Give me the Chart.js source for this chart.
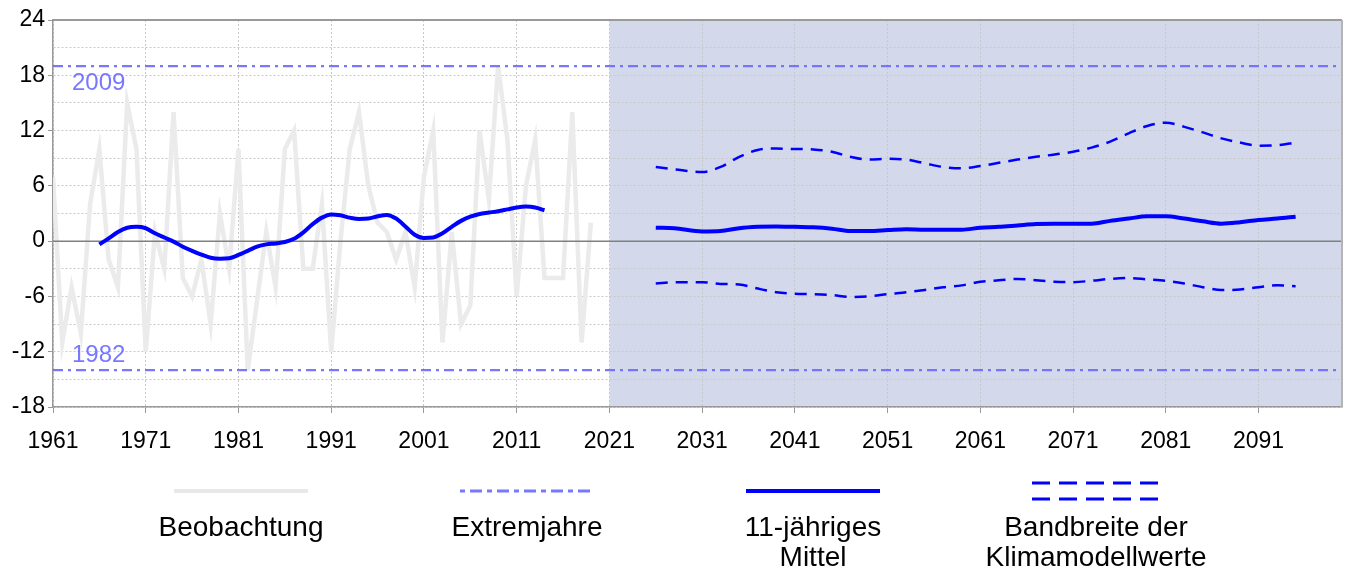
<!doctype html>
<html lang="de">
<head>
  <meta charset="utf-8">
  <title>Klimadiagramm</title>
  <script src="https://cdn.jsdelivr.net/npm/chart.js@4.4.1/dist/chart.umd.min.js"></script>
  <style>
    html, body { margin: 0; padding: 0; background: #fff; }
    #wrap { width: 1345px; height: 572px; position: relative; }
  </style>
</head>
<body>
  <div id="wrap"><canvas id="chart"></canvas></div>
  <script>
    // Beobachtung 1961-2019
    const obsStart = 1961;
    const obsValues = [7, -11, -5, -10, 4, 10, -2, -5, 15, 10,
      -12, 1, -3, 14, -4, -6, -2, -9, 3, -3,
      10, -14, -6.5, 1, -5, 10, 12, -3, -3, 4,
      -12, 0, 10, 14, 6, 2, 1, -2, 1, -5,
      7, 12, -11, 1, -9, -7, 12, 4.5, 19, 11,
      -6, 6, 11, -4, -4, -4, 14, -11, 2];

    // 11-jaehriges Mittel der Beobachtung 1966-2014
    const meanStart = 1966;
    const meanValues = [-0.35, 0.3, 1.0, 1.45, 1.55, 1.4, 0.85, 0.4, -0.05, -0.6,
      -1.05, -1.45, -1.8, -1.9, -1.85, -1.5, -1.05, -0.6, -0.35, -0.25,
      -0.1, 0.25, 0.95, 1.85, 2.55, 2.9, 2.8, 2.55, 2.4, 2.45,
      2.7, 2.85, 2.45, 1.6, 0.7, 0.35, 0.4, 0.85, 1.55, 2.2,
      2.65, 2.95, 3.1, 3.25, 3.45, 3.65, 3.75, 3.65, 3.35];

    // Klimamodelle
    const projYears = [2026, 2028, 2031, 2033, 2035, 2037, 2039, 2041, 2043, 2045,
      2047, 2049, 2051, 2053, 2055, 2057, 2059, 2061, 2063, 2065,
      2067, 2069, 2071, 2073, 2075, 2077, 2079, 2081, 2083, 2085,
      2087, 2089, 2091, 2093, 2095];
    const projMean = [1.45, 1.4, 1.05, 1.1, 1.4, 1.55, 1.6, 1.55, 1.5, 1.35,
      1.1, 1.1, 1.2, 1.3, 1.25, 1.25, 1.25, 1.45, 1.55, 1.7,
      1.85, 1.9, 1.9, 1.9, 2.2, 2.45, 2.7, 2.7, 2.45, 2.15,
      1.9, 2.05, 2.3, 2.45, 2.65];
    const projUpper = [8.05, 7.8, 7.5, 8.05, 9.15, 9.9, 10.05, 10.0, 9.95, 9.7,
      9.15, 8.85, 8.95, 8.85, 8.45, 8.05, 7.9, 8.15, 8.5, 8.85,
      9.15, 9.4, 9.7, 10.15, 10.8, 11.7, 12.5, 12.85, 12.4, 11.8,
      11.15, 10.7, 10.35, 10.4, 10.7];
    const projLower = [-4.6, -4.45, -4.45, -4.65, -4.7, -5.15, -5.55, -5.7, -5.75, -5.85,
      -6.05, -6.0, -5.75, -5.55, -5.3, -5.0, -4.8, -4.4, -4.25, -4.1,
      -4.25, -4.4, -4.45, -4.3, -4.1, -4.0, -4.15, -4.3, -4.6, -5.0,
      -5.3, -5.25, -5.0, -4.8, -4.9];

    // Extremjahre
    const extremeYears = ['2009', '1982'];
    const extremeValues = [19, -14];

    const xMin = 1961, xMax = 2100, projStart = 2021;
    const xTicks = [1961, 1971, 1981, 1991, 2001, 2011, 2021, 2031, 2041, 2051, 2061, 2071, 2081, 2091];
    const yMin = -18, yMax = 24;
    const yTicks = [-18, -15, -12, -9, -6, -3, 0, 3, 6, 9, 12, 15, 18, 21, 24];
    const yLabelled = [-18, -12, -6, 0, 6, 12, 18, 24];

    const legendItems = ['Beobachtung', 'Extremjahre', '11-jähriges|Mittel', 'Bandbreite der|Klimamodellwerte'];

    const FONT = '"Liberation Sans", Arial, sans-serif';
    const EXT_COLOR = 'rgba(105, 105, 255, 0.9)';
    const BLUE = '#0000ff';

    const toXY = (start, vals) => vals.map((v, i) => ({ x: start + i, y: v }));
    const pair = (xs, vals) => vals.map((v, i) => ({ x: xs[i], y: v }));

    const bgPlugin = {
      id: 'bg',
      beforeDraw(chart) {
        const { ctx, chartArea, scales } = chart;
        const x0 = scales.x.getPixelForValue(projStart);
        ctx.save();
        ctx.fillStyle = '#d3d9ea';
        ctx.fillRect(x0, chartArea.top, chartArea.right - x0, chartArea.bottom - chartArea.top);
        ctx.restore();
      },
      afterDatasetsDraw(chart) {
        const { ctx, chartArea, scales } = chart;
        ctx.save();
        // frame top / right
        ctx.strokeStyle = '#9a9a9a';
        ctx.lineWidth = 2;
        ctx.beginPath();
        ctx.moveTo(chartArea.left, chartArea.top);
        ctx.lineTo(chartArea.right, chartArea.top);
        ctx.stroke();
        ctx.strokeStyle = '#b4b4b4';
        ctx.beginPath();
        ctx.moveTo(chartArea.right, chartArea.top);
        ctx.lineTo(chartArea.right, chartArea.bottom);
        ctx.stroke();
        // labels of the extreme years
        ctx.fillStyle = EXT_COLOR;
        ctx.font = '24px ' + FONT;
        ctx.textAlign = 'left';
        ctx.textBaseline = 'middle';
        const lx = scales.x.getPixelForValue(xMin) + 19;
        ctx.fillText(extremeYears[0], lx, scales.y.getPixelForValue(extremeValues[0]) + 17);
        ctx.fillText(extremeYears[1], lx, scales.y.getPixelForValue(extremeValues[1]) - 15);
        ctx.restore();
      },
      afterDraw(chart) {
        const { ctx } = chart;
        ctx.save();
        const cols = [241, 527, 813, 1096];
        const lineY = 491, half = 67;
        ctx.lineCap = 'butt';
        // Beobachtung
        ctx.strokeStyle = '#e8e8e8'; ctx.lineWidth = 4; ctx.setLineDash([]);
        ctx.beginPath(); ctx.moveTo(cols[0] - half, lineY); ctx.lineTo(cols[0] + half, lineY); ctx.stroke();
        // Extremjahre
        ctx.strokeStyle = EXT_COLOR; ctx.lineWidth = 3; ctx.setLineDash([5, 5, 12, 5]);
        ctx.beginPath(); ctx.moveTo(cols[1] - half, lineY); ctx.lineTo(cols[1] + half, lineY); ctx.stroke();
        // Mittel
        ctx.strokeStyle = BLUE; ctx.lineWidth = 4; ctx.setLineDash([]);
        ctx.beginPath(); ctx.moveTo(cols[2] - half, lineY); ctx.lineTo(cols[2] + half, lineY); ctx.stroke();
        // Bandbreite
        ctx.lineWidth = 3; ctx.setLineDash([18, 9]);
        [lineY - 8, lineY + 8].forEach(yy => {
          ctx.beginPath(); ctx.moveTo(cols[3] - 64, yy); ctx.lineTo(cols[3] + 64, yy); ctx.stroke();
        });
        ctx.setLineDash([]);
        ctx.fillStyle = '#000';
        ctx.font = '28px ' + FONT;
        ctx.textAlign = 'center';
        ctx.textBaseline = 'middle';
        legendItems.forEach((txt, i) => {
          txt.split('|').forEach((line, j) => ctx.fillText(line, cols[i], 528 + j * 30));
        });
        ctx.restore();
      }
    };

    new Chart(document.getElementById('chart'), {
      type: 'line',
      data: {
        datasets: [
          { data: [{ x: xMin, y: extremeValues[0] }, { x: xMax, y: extremeValues[0] }], borderColor: EXT_COLOR, borderWidth: 2.2, borderDash: [10, 5, 3, 5], pointRadius: 0, order: 0 },
          { data: [{ x: xMin, y: extremeValues[1] }, { x: xMax, y: extremeValues[1] }], borderColor: EXT_COLOR, borderWidth: 2.2, borderDash: [10, 5, 3, 5], pointRadius: 0, order: 0 },
          { data: toXY(meanStart, meanValues), borderColor: BLUE, borderWidth: 4, pointRadius: 0, cubicInterpolationMode: 'monotone', order: 1 },
          { data: pair(projYears, projMean), borderColor: BLUE, borderWidth: 4, pointRadius: 0, cubicInterpolationMode: 'monotone', order: 1 },
          { data: pair(projYears, projUpper), borderColor: BLUE, borderWidth: 2.5, borderDash: [12, 8], pointRadius: 0, cubicInterpolationMode: 'monotone', order: 2 },
          { data: pair(projYears, projLower), borderColor: BLUE, borderWidth: 2.5, borderDash: [12, 8], pointRadius: 0, cubicInterpolationMode: 'monotone', order: 2 },
          { data: [{ x: xMin, y: 0 }, { x: xMax, y: 0 }], borderColor: '#808080', borderWidth: 1.5, pointRadius: 0, order: 3 },
          { data: toXY(obsStart, obsValues), borderColor: '#ebebeb', borderWidth: 4.5, pointRadius: 0, tension: 0, order: 4 }
        ]
      },
      options: {
        responsive: true,
        maintainAspectRatio: false,
        animation: false,
        events: [],
        layout: { padding: { left: 0, right: 3, top: 20, bottom: 115 } },
        plugins: { legend: { display: false }, tooltip: { enabled: false } },
        scales: {
          x: {
            type: 'linear', min: xMin, max: xMax,
            afterBuildTicks: (s) => { s.ticks = xTicks.map(v => ({ value: v })); },
            afterFit: (s) => { s.height = 50; },
            ticks: { color: '#000', font: { family: FONT, size: 23 }, padding: 15, maxRotation: 0, autoSkip: false, callback: (v) => String(v) },
            grid: { color: '#c8c8c8', lineWidth: 1, tickLength: 6, tickColor: '#999' },
            border: { color: '#999', width: 1.5, dash: [2, 2] }
          },
          y: {
            min: yMin, max: yMax,
            afterBuildTicks: (s) => { s.ticks = yTicks.map(v => ({ value: v })); },
            afterFit: (s) => { s.width = 53; },
            ticks: { color: '#000', font: { family: FONT, size: 23 }, padding: 3, autoSkip: false, callback: (v) => yLabelled.includes(v) ? String(v) : '' },
            grid: { color: '#c8c8c8', lineWidth: 1, tickLength: 5, tickColor: (c) => yLabelled.includes(c.tick && c.tick.value) ? '#999' : 'rgba(0,0,0,0)' },
            border: { color: '#999', width: 1.5, dash: [2, 2] }
          }
        }
      },
      plugins: [bgPlugin]
    });
  </script>
</body>
</html>
